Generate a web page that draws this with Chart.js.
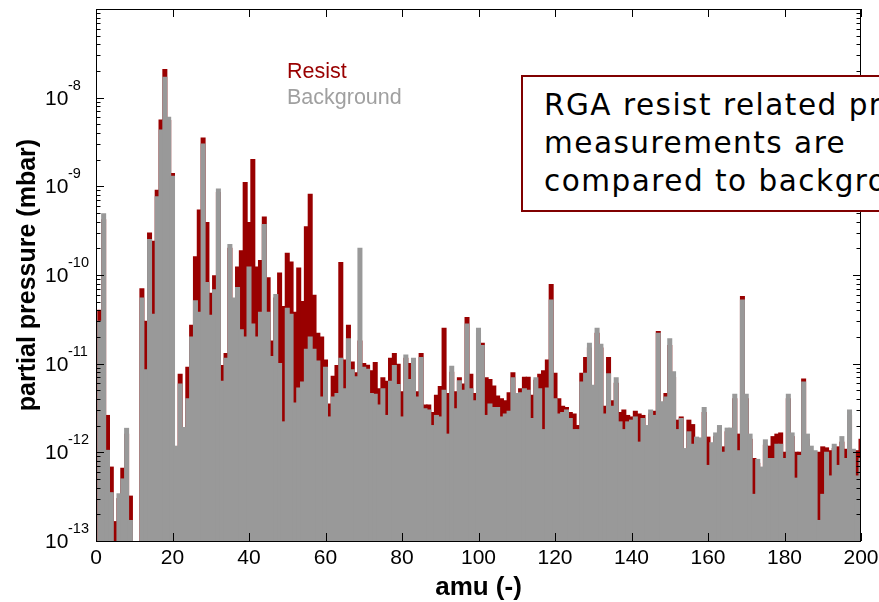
<!DOCTYPE html>
<html>
<head>
<meta charset="utf-8">
<script src="https://cdn.jsdelivr.net/npm/chart.js@4.4.1/dist/chart.umd.min.js"></script>
<style>
  html, body { margin: 0; padding: 0; background: #fff; overflow: hidden; }
  #wrap { position: relative; width: 879px; height: 602px; overflow: hidden; }
  #note {
    position: absolute; left: 521px; top: 75px; width: 440px; height: 137px;
    box-sizing: border-box; border: 2px solid #800000; background: #fff;
    padding: 9px 0 0 21px; white-space: nowrap;
    font-family: "DejaVu Sans", sans-serif; font-size: 29.5px; line-height: 38px;
    letter-spacing: 1.5px; color: #000;
  }
</style>
</head>
<body>
<div id="wrap">
  <canvas id="rga" width="879" height="602"></canvas>
  <div id="note">RGA resist related products<br>measurements are<br>compared to background</div>
</div>
<script>
// mass numbers (amu 1..200)
var amu = Array.from({ length: 200 }, function (_, i) { return i + 1; });

// partial pressure in mbar, resist run
var resist = [
  4.0e-11, 4.2e-10, 2.6e-12, 6.8e-13, 1.65e-13, 3.0e-13, 6.6e-13, 1.6e-12, 3.2e-13, null,
  null, 7.0e-11, 3.0e-11, 2.96e-10, 2.4e-10, 9.0e-10, 5.6e-9, 2.07e-8, 5.5e-9, 1.39e-9,
  1.0e-12, 7.6e-12, 1.7e-12, 9.1e-12, 2.7e-11, 1.6e-10, 5.4e-10, 3.5e-9, 3.9e-10, 6.2e-11,
  9.8e-11, 8.5e-10, 9.5e-12, 1.3e-11, 2.0e-10, 5.0e-11, 1.23e-10, 1.87e-10, 1.1e-9, 3.9e-10,
  2.0e-9, 1.23e-10, 1.45e-10, 4.5e-10, 9.3e-11, 1.8e-11, 5.5e-11, 1.05e-10, 4.4e-11, 1.75e-10,
  1.4e-10, 3.8e-11, 1.2e-10, 5.0e-11, 3.5e-10, 8.1e-10, 5.9e-11, 2.2e-11, 2.0e-11, 1.1e-11,
  3.5e-12, 7.2e-12, 9.5e-12, 1.38e-10, 1.1e-11, 2.7e-11, 1.04e-11, 7.9e-12, 1.8e-11, 1.0e-11,
  9.6e-12, 8.3e-12, 1.03e-11, 5.2e-12, 6.9e-12, 6.3e-12, 1.15e-11, 1.3e-11, 9.8e-12, 4.8e-12,
  1.15e-11, 1.0e-11, 8.0e-12, 4.8e-12, 1.3e-11, 3.4e-12, 3.4e-12, 2.8e-12, 4.4e-12, 5.5e-12,
  2.5e-11, 4.6e-12, 8.0e-12, 4.8e-12, 6.9e-12, 5.9e-12, 3.3e-11, 7.6e-12, 4.6e-12, 2.2e-11,
  1.7e-11, 6.9e-12, 6.6e-12, 5.6e-12, 4.3e-12, 4.0e-12, 3.8e-12, 4.7e-12, 7.9e-12, 4.0e-12,
  5.2e-12, 7.0e-12, 7.0e-12, 4.4e-12, 6.5e-12, 7.6e-12, 8.3e-12, 1.1e-11, 7.8e-11, 7.8e-12,
  4.0e-12, 3.3e-12, 3.2e-12, 2.8e-12, 2.7e-12, 2.0e-12, 7.8e-12, 1.17e-11, 1.5e-11, 5.0e-12,
  2.2e-11, 1.5e-11, 3.3e-12, 1.17e-11, 3.8e-12, 6.0e-12, 2.8e-12, 3.0e-12, 2.6e-12, 2.5e-12,
  2.9e-12, 2.7e-12, 2.6e-12, 1.8e-12, 2.7e-12, 2.9e-12, 2.3e-11, 3.4e-12, 4.6e-12, 1.6e-11,
  7.0e-12, 2.3e-12, 2.5e-12, 1.0e-12, 2.3e-12, 2.05e-12, 1.3e-12, 1.3e-12, 2.8e-12, 1.48e-12,
  1.1e-12, 1.5e-12, 1.8e-12, 1.15e-12, 1.7e-12, 1.7e-12, 4.0e-12, 1.6e-12, 5.7e-11, 4.0e-12,
  1.4e-12, 8.5e-13, 7.5e-13, 6.0e-13, 1.2e-12, 1.17e-12, 1.5e-12, 1.6e-12, 1.65e-12, 1.0e-12,
  4.0e-12, 1.5e-12, 1.0e-12, 1.0e-12, 6.7e-12, 1.4e-12, 1.0e-12, 9.0e-13, 1.0e-12, 1.15e-12,
  1.12e-12, 1.04e-12, 1.1e-12, 1.15e-12, 1.3e-12, 1.08e-12, 2.6e-12, 9.5e-13, 1.04e-12, 1.4e-12
];

// partial pressure in mbar, background run
var background = [
  3.0e-11, 4.9e-10, 1.05e-12, 3.5e-13, null, 3.4e-13, 5.0e-13, 1.86e-12, 1.7e-13, null,
  null, 5.5e-11, 8.5e-12, 2.5e-10, 3.6e-11, 7.6e-10, 4.3e-9, 1.7e-8, 6.0e-9, 1.3e-9,
  1.17e-12, 5.9e-12, 1.9e-12, 4.0e-12, 2.0e-11, 5.1e-11, 3.8e-11, 3.0e-9, 8.2e-11, 3.5e-11,
  6.8e-11, 9.3e-10, 6.3e-12, 1.15e-11, 2.2e-10, 5.5e-11, 7.2e-11, 2.4e-11, 2.0e-11, 1.23e-10,
  2.8e-11, 2.0e-11, 3.8e-11, 3.7e-10, 3.8e-11, 1.2e-11, 6.0e-11, 1.0e-11, 2.2e-12, 4.2e-11,
  3.6e-11, 3.6e-12, 5.3e-12, 6.2e-12, 1.45e-11, 2.0e-11, 1.45e-11, 1.07e-11, 4.2e-12, 9.1e-12,
  2.5e-12, 4.2e-12, 4.6e-12, 1.15e-11, 5.2e-12, 1.9e-11, 8.5e-12, 7.1e-12, 2.0e-10, 9.1e-12,
  8.6e-12, 4.6e-12, 4.5e-12, 3.4e-12, 5.2e-12, 2.6e-12, 6.3e-12, 9.5e-12, 5.8e-12, 2.5e-12,
  1.25e-11, 6.6e-12, 1.15e-11, 4.2e-12, 1.17e-11, 3.1e-12, 3.0e-12, 2.0e-12, 2.6e-12, 2.5e-12,
  5.0e-12, 1.6e-12, 9.3e-12, 3.1e-12, 6.4e-12, 5.0e-12, 2.8e-11, 5.2e-12, 3.8e-12, 2.5e-11,
  1.6e-11, 2.6e-12, 3.5e-12, 3.2e-12, 3.2e-12, 2.5e-12, 2.7e-12, 2.9e-12, 6.9e-12, 4.6e-12,
  4.7e-12, 5.2e-12, 5.0e-12, 2.4e-12, 6.9e-12, 5.2e-12, 1.8e-12, 5.3e-12, 5.2e-11, 4.0e-12,
  2.7e-12, 2.8e-12, 3.0e-12, 2.4e-12, 1.8e-12, 1.8e-12, 6.2e-12, 7.8e-12, 1.7e-11, 5.7e-12,
  2.5e-11, 1.65e-11, 2.7e-12, 7.7e-12, 3.3e-12, 6.9e-12, 2.2e-12, 1.8e-12, 2.2e-12, 2.3e-12,
  2.5e-12, 1.3e-12, 2.4e-12, 2.0e-12, 3.0e-12, 2.6e-12, 2.2e-11, 3.7e-12, 4.2e-12, 1.9e-11,
  8.1e-12, 1.8e-12, 2.4e-12, 1.1e-12, 1.7e-12, 1.23e-12, 1.48e-12, 1.45e-12, 3.2e-12, 7.1e-13,
  1.28e-12, 1.65e-12, 2.0e-12, 1.0e-12, 1.87e-12, 1.87e-12, 4.5e-12, 1.04e-12, 5.2e-11, 4.5e-12,
  1.6e-12, 3.35e-13, 8.3e-13, 6.8e-13, 1.38e-12, 8.5e-13, 8.5e-13, 1.23e-12, 1.23e-12, 8.5e-13,
  4.5e-12, 1.65e-12, 5.1e-13, 9.2e-13, 6.2e-12, 1.6e-12, 1.17e-12, 1.04e-12, 1.7e-13, 3.35e-13,
  1.0e-12, 5.4e-13, 1.23e-12, 7.1e-13, 1.5e-12, 8.5e-13, 3.0e-12, 1.08e-12, 5.4e-13, 8.5e-13
];

// axis ticks
var xTicks = [0, 20, 40, 60, 80, 100, 120, 140, 160, 180, 200];
var yExponents = [-13, -12, -11, -10, -9, -8, -7];

var RED = '#990000';
var GREY = '#999999';

// frame, inward ticks, labels and legend drawn matlab-style
var framePlugin = {
  id: 'frame',
  afterDraw: function (chart) {
    var ctx = chart.ctx, a = chart.chartArea;
    var xs = chart.scales.x, ys = chart.scales.y;
    ctx.save();
    ctx.strokeStyle = '#000';
    ctx.lineWidth = 1;
    ctx.strokeRect(a.left + 0.5, a.top + 0.5, a.right - a.left - 1, a.bottom - a.top);

    ctx.beginPath();
    xTicks.forEach(function (v) {
      var px = Math.round(xs.getPixelForValue(v)) + 0.5;
      ctx.moveTo(px, a.bottom); ctx.lineTo(px, a.bottom - 8);
      ctx.moveTo(px, a.top); ctx.lineTo(px, a.top + 8);
    });
    yExponents.forEach(function (e) {
      for (var m = 1; m <= 9; m++) {
        var v = m * Math.pow(10, e);
        if (v > 1.0001e-7) break;
        var py = Math.round(ys.getPixelForValue(v)) + 0.5;
        var len = m === 1 ? 8 : 4.5;
        ctx.moveTo(a.left, py); ctx.lineTo(a.left + len, py);
        ctx.moveTo(a.right, py); ctx.lineTo(a.right - len, py);
      }
    });
    ctx.stroke();

    // tick labels
    ctx.fillStyle = '#000';
    ctx.font = '21px "Liberation Sans", Arial, sans-serif';
    ctx.textAlign = 'center';
    ctx.textBaseline = 'alphabetic';
    xTicks.forEach(function (v) {
      ctx.fillText(String(v), xs.getPixelForValue(v), a.bottom + 23);
    });
    ctx.textAlign = 'left';
    yExponents.forEach(function (e) {
      if (e === -7) return;
      var py = ys.getPixelForValue(Math.pow(10, e));
      ctx.font = '21px "Liberation Sans", Arial, sans-serif';
      ctx.fillText('10', 45, py + 7);
      ctx.font = '14.5px "Liberation Sans", Arial, sans-serif';
      ctx.fillText(String(e), 68, py - 8);
    });

    // axis titles
    ctx.font = 'bold 26px "Liberation Sans", Arial, sans-serif';
    ctx.textAlign = 'center';
    ctx.fillText('amu (-)', (a.left + a.right) / 2, 595);
    ctx.font = 'bold 25px "Liberation Sans", Arial, sans-serif';
    ctx.translate(28, (a.top + a.bottom) / 2);
    ctx.rotate(-Math.PI / 2);
    ctx.textBaseline = 'middle';
    ctx.fillText('partial pressure (mbar)', 0, 0);
    ctx.restore();

    // legend
    ctx.save();
    ctx.font = '21.5px "Liberation Sans", Arial, sans-serif';
    ctx.textAlign = 'left';
    ctx.fillStyle = RED;
    ctx.fillText('Resist', 287, 78);
    ctx.fillStyle = '#a0a0a0';
    ctx.fillText('Background', 287, 104);
    ctx.restore();
  }
};

var ctx = document.getElementById('rga').getContext('2d');
var rgaChart = new Chart(ctx, {
  type: 'bar',
  data: {
    labels: amu,
    datasets: [{
      label: 'Background',
      data: background,
      backgroundColor: GREY,
      grouped: false,
      order: 0,
      barPercentage: 1,
      categoryPercentage: 1,
      inflateAmount: 0.6
    }, {
      label: 'Resist',
      data: resist,
      backgroundColor: RED,
      grouped: false,
      order: 1,
      barPercentage: 1,
      categoryPercentage: 1,
      inflateAmount: 0.6
    }]
  },
  options: {
    responsive: false,
    animation: false,
    layout: { padding: { top: 9, right: 18, left: 0, bottom: 0 } },
    plugins: { legend: { display: false }, tooltip: { enabled: false } },
    scales: {
      x: {
        type: 'linear', min: 0, max: 200, offset: false,
        grid: { display: false, drawTicks: false, offset: false },
        border: { display: false },
        ticks: { display: false },
        afterFit: function (s) { s.height = 61; }
      },
      y: {
        type: 'logarithmic', min: 1e-13, max: 1e-7,
        grid: { display: false, drawTicks: false },
        border: { display: false },
        ticks: { display: false },
        afterFit: function (s) { s.width = 96; }
      }
    }
  },
  plugins: [framePlugin]
});
</script>
</body>
</html>
